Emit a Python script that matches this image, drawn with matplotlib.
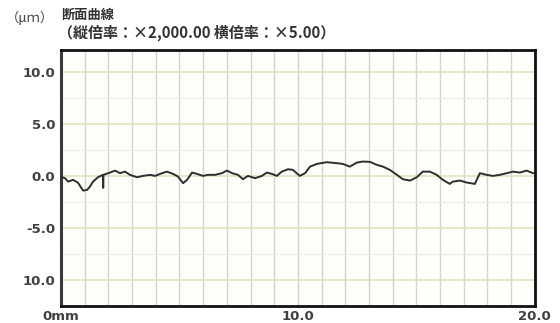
import numpy as np
import matplotlib
matplotlib.use('Agg')
from matplotlib import pyplot as plt

plt.rcParams['font.family'] = ['Noto Sans CJK JP', 'DejaVu Sans']

# roughness profile: position along the surface (mm) and height (um)
pos_mm = [0.00, 0.17, 0.30, 0.51, 0.72, 0.93, 1.10, 1.22, 1.35, 1.56, 1.77, 1.78, 1.79,
          2.07, 2.28, 2.49, 2.70, 2.91, 3.21, 3.46, 3.76, 3.97, 4.18, 4.47, 4.73,
          4.94, 5.15, 5.32, 5.53, 5.74, 5.99, 6.20, 6.50, 6.79, 7.00, 7.22, 7.47,
          7.68, 7.89, 8.19, 8.48, 8.69, 8.90, 9.11, 9.32, 9.58, 9.79, 9.87, 10.08,
          10.30, 10.51, 10.80, 11.22, 11.65, 11.90, 12.19, 12.49, 12.74, 13.04,
          13.33, 13.59, 13.88, 14.18, 14.43, 14.73, 15.02, 15.27, 15.57, 15.86,
          16.12, 16.41, 16.54, 16.84, 17.13, 17.47, 17.68, 17.97, 18.23, 18.52,
          18.82, 19.07, 19.37, 19.66, 19.92, 20.00]
height_um = [-0.10, -0.22, -0.55, -0.38, -0.67, -1.41, -1.35, -1.03, -0.55, -0.13, 0.10, -1.15, 0.10,
             0.32, 0.51, 0.26, 0.41, 0.10, -0.13, 0.00, 0.10, 0.00, 0.19, 0.41, 0.19,
             -0.07, -0.70, -0.38, 0.32, 0.19, 0.00, 0.10, 0.10, 0.26, 0.51, 0.26, 0.10,
             -0.32, 0.00, -0.22, 0.00, 0.32, 0.19, 0.00, 0.41, 0.64, 0.58, 0.41, 0.00,
             0.26, 0.89, 1.15, 1.32, 1.22, 1.15, 0.89, 1.28, 1.38, 1.35,
             1.06, 0.89, 0.58, 0.10, -0.32, -0.45, -0.13, 0.41, 0.41, 0.10,
             -0.38, -0.77, -0.55, -0.45, -0.64, -0.77, 0.26, 0.10, 0.00, 0.10,
             0.26, 0.41, 0.32, 0.51, 0.26, 0.29]

y_ticks = [10.0, 5.0, 0.0, -5.0, -10.0]
y_tick_labels = ['10.0', '5.0', '0.0', '-5.0', '10.0']
x_ticks = [0.0, 10.0, 20.0]
x_tick_labels = ['0mm', '10.0', '20.0']

fig = plt.figure(figsize=(5.6, 3.23), dpi=100)
ax = fig.add_axes([0.109, 0.053, 0.846, 0.792])
ax.set_facecolor('#fefefb')

# chart-paper grid: 1 mm columns, 2.5 um rows with stronger 5 um rows
for xv in np.arange(1, 20, 1):
    ax.axvline(xv, color='#d4d4cf', lw=1.0, zorder=1)
for yv in np.arange(-12.5, 12.6, 2.5):
    if abs(yv % 5) < 1e-6:
        ax.axhline(yv, color='#dde2bc', lw=1.1, zorder=1)
    else:
        ax.axhline(yv, color='#ebebe8', lw=0.8, zorder=1)

ax.plot(pos_mm, height_um, color='#2e2e2e', lw=1.4, zorder=3)

ax.set_xlim(0, 20)
ax.set_ylim(-12.5, 12.1)
ax.set_yticks(y_ticks)
ax.set_yticklabels(y_tick_labels)
ax.set_xticks(x_ticks)
ax.set_xticklabels(x_tick_labels)
ax.tick_params(length=0, labelsize=9.5, labelcolor='#404040', pad=4)
ax.tick_params(axis='x', pad=3)
for lab in ax.get_yticklabels() + ax.get_xticklabels():
    lab.set_family('DejaVu Sans')
    lab.set_fontweight('bold')

for side in ['top', 'bottom', 'right']:
    ax.spines[side].set_color('#111111')
    ax.spines[side].set_linewidth(2.0)
ax.spines['left'].set_color('#3a3a3a')
ax.spines['left'].set_linewidth(2.2)

fig.text(0.010, 0.945, '（μｍ）', fontsize=9.5, color='#444444', va='center')
fig.text(0.110, 0.955, '断面曲線', fontsize=9.5, color='#333333', va='center',
         fontweight='bold')
fig.text(0.103, 0.897, '（縦倍率：×2,000.00 横倍率：×5.00）', fontsize=10.8,
         color='#333333', va='center', fontweight='bold')

fig.savefig('out.png', dpi=100)
